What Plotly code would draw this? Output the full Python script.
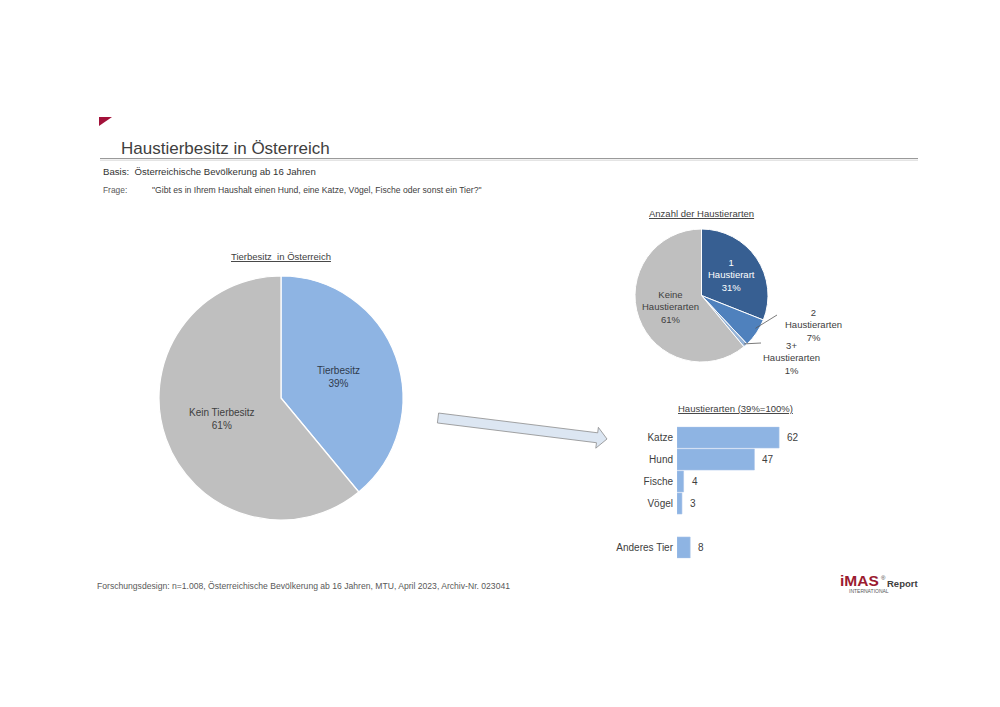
import math
import plotly.graph_objects as go

W, H = 1000, 707

# ---------------- data ----------------
owner_labels = ["Tierbesitz", "Kein Tierbesitz"]
owner_values = [39, 61]
owner_colors = ["#8EB4E3", "#BFBFBF"]

count_labels = ["1<br>Haustierart", "2<br>Haustierarten", "3+<br>Haustierarten", "Keine<br>Haustierarten"]
count_values = [31, 7, 1, 61]
count_colors = ["#375F92", "#4F81BD", "#95B3D7", "#BFBFBF"]

animal_names = ["Katze", "Hund", "Fische", "Vögel", "Anderes Tier"]
animal_values = [62, 47, 4, 3, 8]
animal_slots = [0, 1, 2, 3, 5]

TXT = "#404040"
FONT = "Liberation Sans, Arial, sans-serif"


def px(x):
    return x / W


def py(y):
    return 1 - y / H


fig = go.Figure()

# ---------------- big pie ----------------
big_c = (281, 398)
big_r = 122
fig.add_trace(go.Pie(
    labels=owner_labels, values=owner_values, sort=False, direction="clockwise", rotation=0,
    marker=dict(colors=owner_colors, line=dict(color="white", width=1.2)),
    textinfo="none", hoverinfo="label+percent", showlegend=False,
    domain=dict(x=[px(big_c[0] - big_r), px(big_c[0] + big_r)],
                y=[py(big_c[1] + big_r), py(big_c[1] - big_r)]),
))

# ---------------- small pie ----------------
sm_c = (701.5, 295.5)
sm_r = 66.5
fig.add_trace(go.Pie(
    labels=count_labels, values=count_values, sort=False, direction="clockwise", rotation=0,
    marker=dict(colors=count_colors, line=dict(color="white", width=1)),
    textinfo="none", hoverinfo="label+percent", showlegend=False,
    domain=dict(x=[px(sm_c[0] - sm_r), px(sm_c[0] + sm_r)],
                y=[py(sm_c[1] + sm_r), py(sm_c[1] - sm_r)]),
))

# ---------------- bars ----------------
bar_top, bar_bot = 426.5, 558.5
fig.add_trace(go.Bar(
    x=animal_values, y=animal_slots, orientation="h", width=0.955,
    marker=dict(color="#8EB4E3", line=dict(color="#A9C5EA", width=0.6)),
    showlegend=False, hoverinfo="x+y",
))

fig.update_layout(
    xaxis=dict(domain=[px(677), px(840)], range=[0, 99], visible=False, fixedrange=True),
    yaxis=dict(domain=[py(bar_bot), py(bar_top)], range=[5.5, -0.5],
               tickvals=animal_slots, ticktext=animal_names,
               showgrid=False, zeroline=False, showline=False, ticks="",
               ticklabelstandoff=3,
               tickfont=dict(size=10, color=TXT, family=FONT), fixedrange=True),
)

annotations = []
shapes = []


def ann(x, y, text, size=10, color=TXT, xanchor="center", yanchor="middle", align="center", **kw):
    annotations.append(dict(x=px(x), y=py(y), xref="paper", yref="paper", text=text, showarrow=False,
                            xanchor=xanchor, yanchor=yanchor, align=align,
                            font=dict(size=size, color=color, family=FONT), **kw))


# value labels for bars
for v, s in zip(animal_values, animal_slots):
    annotations.append(dict(x=v, y=s, xref="x", yref="y", text=str(v), showarrow=False,
                            xanchor="left", yanchor="middle", xshift=6,
                            font=dict(size=10, color=TXT, family=FONT)))


def pie_point(center, r, frac_angle):
    a = 2 * math.pi * frac_angle
    return center[0] + r * math.sin(a), center[1] - r * math.cos(a)


def mids(values):
    tot = sum(values)
    out, cum = [], 0
    for v in values:
        out.append((cum + v / 2) / tot)
        cum += v
    return out


# big pie labels
bm = mids(owner_values)
lx, ly = pie_point(big_c, big_r * 0.5, bm[0])
ann(lx, ly, f"{owner_labels[0]}<br>{owner_values[0]}%", size=10, color="#2F3B4C")
lx, ly = pie_point(big_c, big_r * 0.51, bm[1])
ann(lx, ly, f"{owner_labels[1]}<br>{owner_values[1]}%", size=10, color=TXT)

# small pie labels
sm = mids(count_values)
lx, ly = pie_point(sm_c, sm_r * 0.54, sm[0])
ann(lx, ly, f"{count_labels[0]}<br>{count_values[0]}%", size=9.5, color="white")
lx, ly = pie_point(sm_c, sm_r * 0.5, sm[3])
ann(lx, ly, f"{count_labels[3]}<br>{count_values[3]}%", size=9.5, color=TXT)

# outside labels with leader lines
ex, ey = pie_point(sm_c, sm_r * 0.95, sm[1] - 0.008)
shapes.append(dict(type="line", xref="paper", yref="paper", x0=px(ex), y0=py(ey), x1=px(777), y1=py(315),
                   line=dict(color="#595959", width=0.8)))
ann(813, 325, f"{count_labels[1]}<br>{count_values[1]}%", size=9.5)
ex, ey = pie_point(sm_c, sm_r * 0.97, sm[2])
shapes.append(dict(type="line", xref="paper", yref="paper", x0=px(ex), y0=py(ey), x1=px(761), y1=py(343),
                   line=dict(color="#595959", width=0.8)))
ann(791, 358, f"{count_labels[2]}<br>{count_values[2]}%", size=9.5)

# titles
U = '<span style="text-decoration:underline">{}</span>'
ann(281, 256, U.format("Tierbesitz  in Österreich"), size=9.5)
ann(701, 213, U.format("Anzahl der Haustierarten"), size=9.5)
ann(735, 408, U.format("Haustierarten (39%=100%)"), size=9.5)

ann(119, 148, "Haustierbesitz in Österreich", size=17, color=TXT, xanchor="left")
ann(101, 172, "Basis:  Österreichische Bevölkerung ab 16 Jahren", size=9.6, color="#333333", xanchor="left")
ann(101, 190, "Frage:", size=8.4, color="#595959", xanchor="left")
ann(150, 190, "\"Gibt es in Ihrem Haushalt einen Hund, eine Katze, Vögel, Fische oder sonst ein Tier?\"",
    size=8.6, color="#404040", xanchor="left")
ann(95, 586, "Forschungsdesign: n=1.008, Österreichische Bevölkerung ab 16 Jahren, MTU, April 2023, Archiv-Nr. 023041",
    size=8.6, color="#595959", xanchor="left")

# logo
ann(838, 580, "<b>iMAS</b>", size=15.5, color="#9B1B30", xanchor="left")
ann(879, 578, "®", size=6, color="#404040", xanchor="left")
ann(885, 583, "<b>Report</b>", size=9.5, color="#404040", xanchor="left")
ann(847, 591, "INTERNATIONAL", size=5, color="#595959", xanchor="left")

# title rule + red corner
shapes.append(dict(type="line", xref="paper", yref="paper", x0=px(100), x1=px(918), y0=py(158.5), y1=py(158.5),
                   line=dict(color="#9A9A9A", width=1.2)))
shapes.append(dict(type="line", xref="paper", yref="paper", x0=px(100), x1=px(918), y0=py(160.3), y1=py(160.3),
                   line=dict(color="#E4E4E4", width=1.4)))
shapes.append(dict(type="path", xref="paper", yref="paper",
                   path=f"M {px(99)},{py(117)} L {px(112)},{py(117)} L {px(99)},{py(126)} Z",
                   fillcolor="#A3123A", line=dict(width=0)))

# block arrow
x0a, y0a, x1a, y1a = 438, 418, 607, 439
L = math.hypot(x1a - x0a, y1a - y0a)
ux, uy = (x1a - x0a) / L, (y1a - y0a) / L
nx, ny = -uy, ux
hw, hl, hh = 5, 10, 10.5
bx, by = x1a - ux * hl, y1a - uy * hl
pts = [
    (x0a - nx * hw, y0a - ny * hw),
    (bx - nx * hw, by - ny * hw),
    (bx - nx * hh, by - ny * hh),
    (x1a, y1a),
    (bx + nx * hh, by + ny * hh),
    (bx + nx * hw, by + ny * hw),
    (x0a + nx * hw, y0a + ny * hw),
]
path = "M " + " L ".join(f"{px(a)},{py(b)}" for a, b in pts) + " Z"
shapes.append(dict(type="path", xref="paper", yref="paper", path=path,
                   fillcolor="#DCE6F2", line=dict(color="#8C8C8C", width=0.8)))

fig.update_layout(
    width=W, height=H, margin=dict(l=0, r=0, t=0, b=0),
    paper_bgcolor="white", plot_bgcolor="rgba(0,0,0,0)",
    font=dict(family=FONT, color=TXT),
    annotations=annotations, shapes=shapes, showlegend=False,
)

fig.write_html("out.html")
